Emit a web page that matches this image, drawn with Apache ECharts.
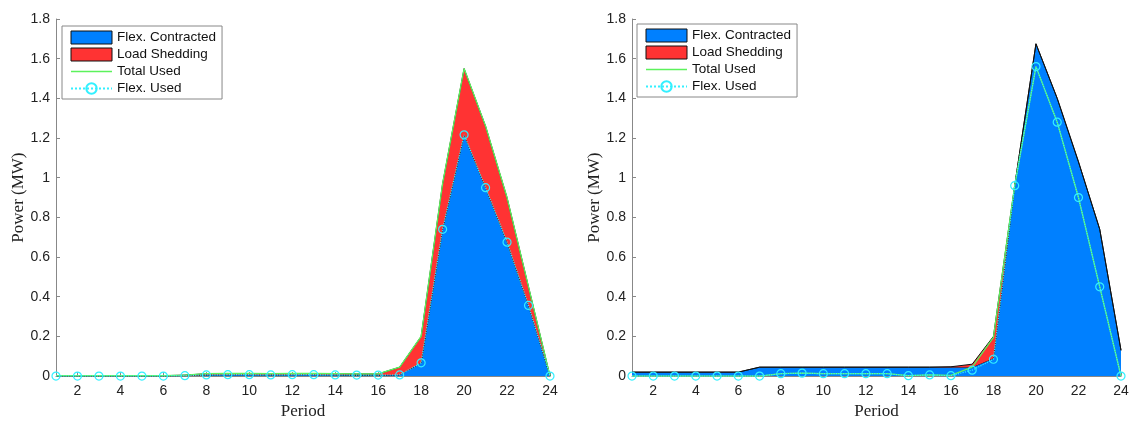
<!DOCTYPE html>
<html>
<head>
<meta charset="utf-8">
<script src="https://cdn.jsdelivr.net/npm/echarts@6/dist/echarts.min.js"></script>
<style>
html,body{margin:0;padding:0;background:#fff;}
#chart{width:1132px;height:425px;}
</style>
</head>
<body>
<div id="chart"></div>
<script>
// ---- data ----
const periods = ['1','2','3','4','5','6','7','8','9','10','11','12','13','14','15','16','17','18','19','20','21','22','23','24'];
const xTickLabels = ['2','4','6','8','10','12','14','16','18','20','22','24'];

// Left panel
const contractedL = [0,0,0,0,0,0,0.002,0.006,0.007,0.007,0.006,0.007,0.007,0.006,0.005,0.005,0.006,0.067,0.74,1.216,0.95,0.675,0.356,0];
const sheddingL   = [0.002,0.002,0.002,0.002,0.002,0.002,0.003,0.006,0.006,0.006,0.006,0.006,0.006,0.006,0.006,0.006,0.039,0.133,0.23,0.334,0.31,0.225,0.094,0];
const totalUsedL  = [0.002,0.002,0.002,0.002,0.002,0.002,0.005,0.012,0.013,0.013,0.012,0.013,0.013,0.012,0.011,0.011,0.045,0.2,0.97,1.55,1.26,0.9,0.45,0];
const flexUsedL   = [0,0,0,0,0,0,0.002,0.006,0.007,0.007,0.006,0.007,0.007,0.006,0.005,0.005,0.006,0.067,0.74,1.216,0.95,0.675,0.356,0];

// Right panel
const contractedR = [0.02,0.02,0.02,0.02,0.02,0.02,0.045,0.045,0.045,0.045,0.045,0.045,0.045,0.045,0.045,0.045,0.045,0.09,0.96,1.675,1.4,1.08,0.74,0.13];
const sheddingR   = [0,0,0,0,0,0,0,0,0,0,0,0,0,0,0,0.002,0.015,0.11,0,0,0,0,0,0];
const totalUsedR  = [0,0,0,0,0,0,0,0.012,0.015,0.012,0.012,0.012,0.012,0.002,0.006,0.004,0.045,0.195,0.96,1.56,1.28,0.9,0.45,0];
const flexUsedR   = [0,0,0,0,0,0,0,0.012,0.015,0.012,0.012,0.012,0.012,0.002,0.006,0.002,0.03,0.085,0.96,1.56,1.28,0.9,0.45,0];

const names = ['Flex. Contracted','Load Shedding','Total Used','Flex. Used'];

// ---- styling ----
const BLUE = '#0080FF', RED = '#FF3333', GREEN = '#5CF25C', CYAN = '#33F0FF';
const showTick = (idx, val) => xTickLabels.indexOf(String(val)) >= 0;

function xAx(gi){
  return {
    type:'category', gridIndex:gi, data:periods, boundaryGap:false,
    axisLine:{show:true, onZero:false, lineStyle:{color:'#888', width:1}},
    axisTick:{show:true, inside:true, length:4, interval:showTick, lineStyle:{color:'#888'}},
    axisLabel:{interval:showTick, color:'#222', fontFamily:'Liberation Sans, Arial', fontSize:14, margin:8},
    splitLine:{show:false},
    name:'Period', nameLocation:'middle', nameGap:23,
    nameTextStyle:{fontFamily:'Liberation Serif, Times New Roman', fontSize:17, color:'#222'}
  };
}
function yAx(gi, gap){
  return {
    type:'value', gridIndex:gi, min:0, max:1.8, interval:0.2,
    axisLine:{show:true, lineStyle:{color:'#888', width:1}},
    axisTick:{show:true, inside:true, length:4, lineStyle:{color:'#888'}},
    axisLabel:{color:'#222', fontFamily:'Liberation Sans, Arial', fontSize:14, margin:6},
    splitLine:{show:false},
    name:'Power (MW)', nameLocation:'middle', nameGap:gap,
    nameTextStyle:{fontFamily:'Liberation Serif, Times New Roman', fontSize:17, color:'#222'}
  };
}
function seriesFor(gi, contracted, shedding, total, flex){
  return [
    {name:names[0], type:'line', xAxisIndex:gi, yAxisIndex:gi, stack:'s'+gi, data:contracted,
     symbol:'none', lineStyle:{color:'#111', width:1}, itemStyle:{color:BLUE},
     areaStyle:{color:BLUE, opacity:1}, z:1},
    {name:names[1], type:'line', xAxisIndex:gi, yAxisIndex:gi, stack:'s'+gi, data:shedding,
     symbol:'none', lineStyle:{color:'#111', width:1}, itemStyle:{color:RED},
     areaStyle:{color:RED, opacity:1}, z:2},
    {name:names[2], type:'line', xAxisIndex:gi, yAxisIndex:gi, data:total,
     symbol:'none', lineStyle:{color:GREEN, width:1.3}, itemStyle:{color:GREEN}, z:3},
    {name:names[3], type:'line', xAxisIndex:gi, yAxisIndex:gi, data:flex,
     symbol:'circle', symbolSize:8, showSymbol:true,
     lineStyle:{color:CYAN, width:1.2, type:'dotted'},
     itemStyle:{color:'rgba(0,0,0,0)', borderColor:CYAN, borderWidth:1.2}, z:4}
  ];
}
function legendAt(left, top){
  return {
    orient:'vertical', left:left, top:top,
    backgroundColor:'#fff', borderColor:'#888', borderWidth:1,
    padding:[4,6,3,8], itemGap:2, itemWidth:41, itemHeight:13,
    textStyle:{fontFamily:'Liberation Sans, Arial', fontSize:13.5, lineHeight:15, color:'#111'},
    selectedMode:false,
    data:[
      {name:names[0], icon:'rect', itemStyle:{color:BLUE, borderColor:'#111', borderWidth:1}},
      {name:names[1], icon:'rect', itemStyle:{color:RED, borderColor:'#111', borderWidth:1}},
      {name:names[2], icon:'path://M0,0H40V1.4H0Z', itemStyle:{color:GREEN, borderWidth:0}},
      {name:names[3]}
    ]
  };
}

const chart = echarts.init(document.getElementById('chart'), null, {renderer:'canvas'});
chart.setOption({
  animation:false,
  backgroundColor:'#fff',
  grid:[
    {left:56, top:19, width:494, height:364},
    {left:632, top:19, width:489, height:366}
  ],
  xAxis:[xAx(0), xAx(1)],
  yAxis:[yAx(0, 29), yAx(1, 29)],
  legend:[legendAt(62, 26), legendAt(637, 24)],
  series:[].concat(
    seriesFor(0, contractedL, sheddingL, totalUsedL, flexUsedL),
    seriesFor(1, contractedR, sheddingR, totalUsedR, flexUsedR)
  )
});
</script>
</body>
</html>
